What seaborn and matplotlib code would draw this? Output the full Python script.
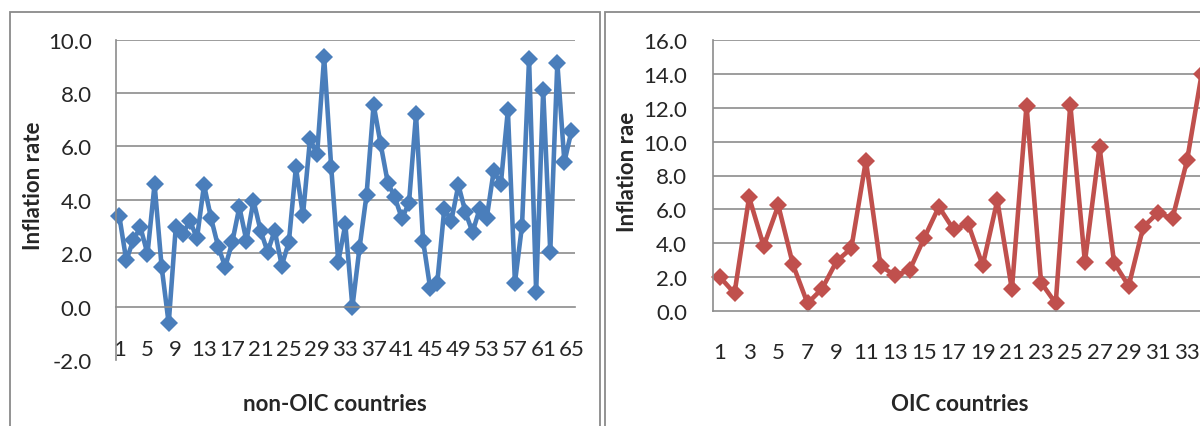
import numpy as np
import pandas as pd
import matplotlib
matplotlib.use("Agg")
import matplotlib.pyplot as plt
from matplotlib.patches import Rectangle
import seaborn as sns

# ---- data ----
non_oic_values = [3.41, 1.73, 2.50, 2.97, 1.98, 4.59, 1.49, -0.63, 2.98, 2.72,
                  3.22, 2.56, 4.56, 3.31, 2.25, 1.49, 2.42, 3.73, 2.47, 3.97,
                  2.85, 2.05, 2.85, 1.54, 2.41, 5.22, 3.43, 6.27, 5.71, 9.35,
                  5.22, 1.69, 3.08, -0.01, 2.19, 4.19, 7.57, 6.08, 4.65, 4.09,
                  3.31, 3.87, 7.20, 2.47, 0.70, 0.88, 3.66, 3.22, 4.56, 3.53,
                  2.79, 3.66, 3.31, 5.09, 4.59, 7.36, 0.90, 3.03, 9.28, 0.55,
                  8.11, 2.06, 9.13, 5.42, 6.58]
oic_values = [2.02, 1.06, 6.72, 3.84, 6.24, 2.76, 0.47, 1.33, 2.96, 3.71,
              8.88, 2.67, 2.12, 2.43, 4.33, 6.16, 4.82, 5.16, 2.70, 6.53,
              1.29, 12.12, 1.69, 0.47, 12.18, 2.90, 9.69, 2.86, 1.49, 4.98,
              5.80, 5.47, 8.90, 14.00]
non_oic_ids = list(range(1, len(non_oic_values) + 1))
oic_ids = list(range(1, len(oic_values) + 1))
left_tick_labels = [str(i) for i in range(1, 66, 4)]
right_tick_labels = [str(i) for i in range(1, 34, 2)]
left_xlabel = "non-OIC countries"
right_xlabel = "OIC countries"
left_ylabel = "Inflation rate"
right_ylabel = "Inflation rae"

sns.set_style("white")
plt.rcParams["font.family"] = ["Lato", "DejaVu Sans"]

W, H = 1200, 427
fig = plt.figure(figsize=(W / 100, H / 100), dpi=100)

GRID = "#8c8c8c"
BLUE = "#4a7ebb"
RED = "#c0504d"
FS = 16

# ---- left panel ----
axL = fig.add_axes([115.7 / W, (H - 361) / H, (575 - 115.7) / W, (361 - 40.7) / H])
axL.spines["bottom"].set_position(("data", 0))
dfL = pd.DataFrame({"id": non_oic_ids, "v": non_oic_values})
sns.lineplot(data=dfL, x="id", y="v", ax=axL, color=BLUE, lw=3.3,
             marker="D", markersize=9, markeredgewidth=0, clip_on=False)
axL.set_xlim(0.5, len(non_oic_ids) + 0.5)
axL.set_ylim(-2, 10)
yl = np.arange(-2, 10.1, 2)
axL.set_yticks(yl)
axL.set_yticklabels([f"{v:.1f}" for v in yl])
axL.set_xticks([int(t) for t in left_tick_labels])
axL.set_xticklabels(left_tick_labels)
axL.set_xticks(np.arange(0.5, len(non_oic_ids) + 1, 1), minor=True)
axL.tick_params(axis="x", which="major", length=0, pad=23, labelsize=FS)
axL.tick_params(axis="x", which="minor", length=4.5, width=1.0, color=GRID, direction="out")
axL.tick_params(axis="y", which="major", length=6.3, width=1.0, color=GRID,
                direction="out", pad=11, labelsize=FS)
for s in ["top", "right"]:
    axL.spines[s].set_visible(False)
for s in ["left", "bottom"]:
    axL.spines[s].set_color(GRID)
    axL.spines[s].set_linewidth(1.2)
axL.set_axisbelow(True)
axL.grid(axis="y", color=GRID, lw=1.2)
axL.grid(axis="x", visible=False)
ygl = axL.get_ygridlines()
ygl[0].set_visible(False)
ygl[1].set_visible(False)
axL.set_xlabel("")
axL.set_ylabel("")

# ---- right panel ----
step = 14.6
n_cats = 40
axR = fig.add_axes([712.6 / W, (H - 312.3) / H, n_cats * step / W, (312.3 - 40.7) / H])
dfR = pd.DataFrame({"id": oic_ids, "v": oic_values})
sns.lineplot(data=dfR, x="id", y="v", ax=axR, color=RED, lw=3.3,
             marker="D", markersize=9, markeredgewidth=0, clip_on=False)
axR.set_xlim(0.5, n_cats + 0.5)
axR.set_ylim(0, 16)
yr = np.arange(0, 16.1, 2)
axR.set_yticks(yr)
axR.set_yticklabels([f"{v:.1f}" for v in yr])
axR.set_xticks([int(t) for t in right_tick_labels])
axR.set_xticklabels(right_tick_labels)
axR.set_xticks(np.arange(0.5, n_cats + 1, 1), minor=True)
axR.tick_params(axis="x", which="major", length=0, pad=22, labelsize=FS)
axR.tick_params(axis="x", which="minor", length=6, width=1.0, color=GRID, direction="out")
axR.tick_params(axis="y", which="major", length=6.3, width=1.0, color=GRID,
                direction="out", pad=12, labelsize=FS)
for s in ["top", "right"]:
    axR.spines[s].set_visible(False)
for s in ["left", "bottom"]:
    axR.spines[s].set_color(GRID)
    axR.spines[s].set_linewidth(1.2)
axR.set_axisbelow(True)
axR.grid(axis="y", color=GRID, lw=1.2)
axR.grid(axis="x", visible=False)
axR.get_ygridlines()[0].set_visible(False)
axR.set_xlabel("")
axR.set_ylabel("")

# ---- titles ----
fig.text(335 / W, (H - 405) / H, left_xlabel, ha="center", va="center",
         fontsize=FS, fontweight="bold")
fig.text(960 / W, (H - 405) / H, right_xlabel, ha="center", va="center",
         fontsize=FS, fontweight="bold")
fig.text(33 / W, (H - 186) / H, left_ylabel, ha="center", va="center",
         rotation=90, fontsize=FS, fontweight="bold")
fig.text(628 / W, (H - 172) / H, right_ylabel, ha="center", va="center",
         rotation=90, fontsize=FS, fontweight="bold")

# ---- chart frames ----
fig.add_artist(Rectangle((10 / W, -0.1), 590 / W, 0.1 + (H - 12.7) / H,
                         transform=fig.transFigure, fill=False, ec="#8a8a8a", lw=1.3))
fig.add_artist(Rectangle((605 / W, -0.1), 0.6, 0.1 + (H - 12.7) / H,
                         transform=fig.transFigure, fill=False, ec="#8a8a8a", lw=1.3))

fig.savefig("out.png", dpi=100)
